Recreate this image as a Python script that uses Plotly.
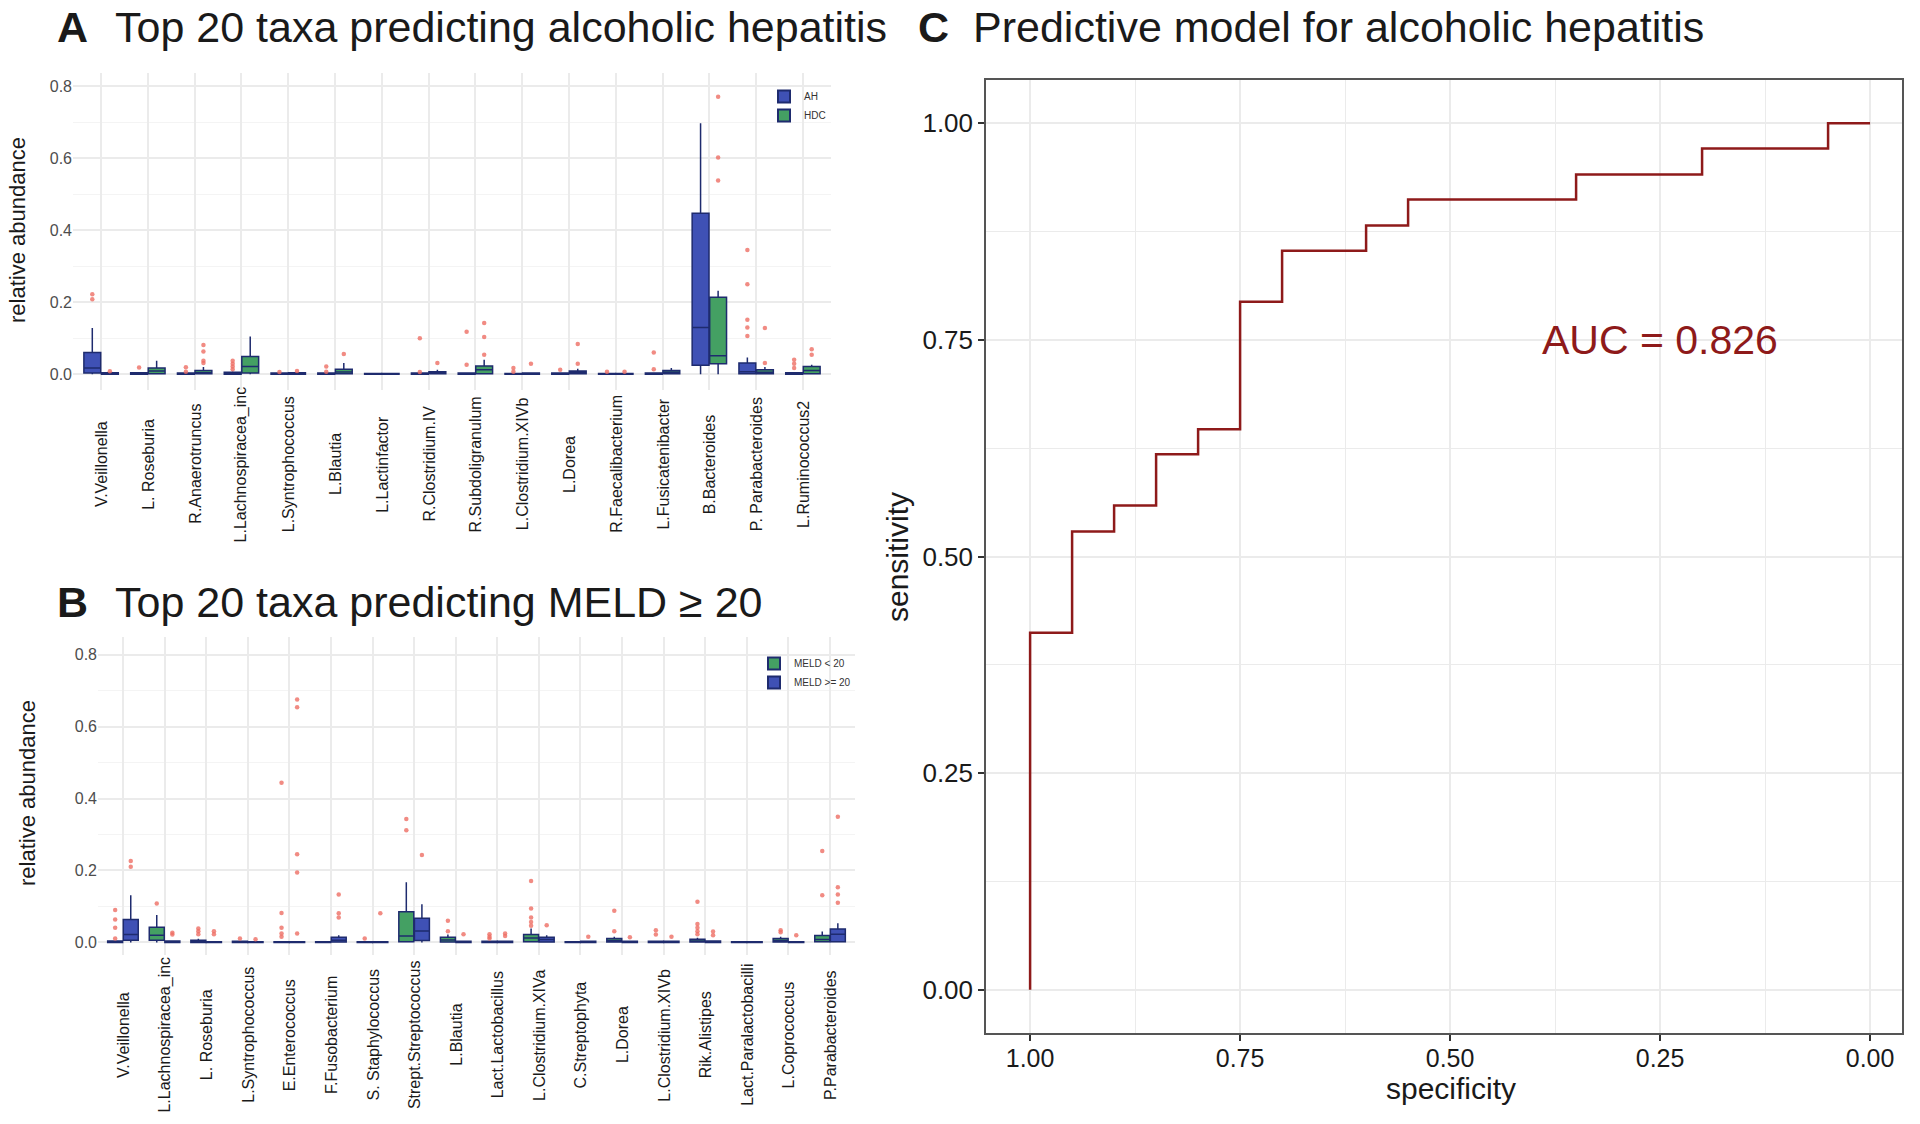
import plotly.graph_objects as go

# ---------------- Panel A data ----------------
A_TAXA = ["V.Veillonella", "L. Roseburia", "R.Anaerotruncus", "L.Lachnospiracea_inc",
          "L.Syntrophococcus", "L.Blautia", "L.Lactinfactor", "R.Clostridium.IV",
          "R.Subdoligranulum", "L.Clostridium.XIVb", "L.Dorea", "R.Faecalibacterium",
          "L.Fusicatenibacter", "B.Bacteroides", "P. Parabacteroides", "L.Ruminococcus2"]

A_AH_Q1 = [0.003, 0, 0, 0, 0, 0, 0, 0, 0, 0, 0, 0, 0, 0.025, 0.001, 0]
A_AH_MED = [0.017, 0.001, 0.001, 0.002, 0.001, 0.001, 0.001, 0.001, 0.001, 0.001, 0.001, 0.001, 0.001, 0.130, 0.007, 0.001]
A_AH_Q3 = [0.060, 0.004, 0.003, 0.005, 0.003, 0.003, 0.002, 0.003, 0.003, 0.002, 0.003, 0.002, 0.003, 0.447, 0.031, 0.004]
A_AH_HI = [0.128, 0.006, 0.005, 0.008, 0.004, 0.005, 0.003, 0.004, 0.005, 0.003, 0.005, 0.003, 0.005, 0.697, 0.046, 0.006]
A_AH_OUT = [[0.222, 0.208], [0.0185], [0.019, 0.007], [0.037, 0.029, 0.021, 0.014], [0.006],
            [0.021, 0.007], [], [0.100, 0.006], [0.118, 0.026], [0.017, 0.007], [0.012],
            [0.007], [0.060, 0.014], [], [0.345, 0.250, 0.151, 0.130, 0.106], [0.040, 0.029, 0.017]]

A_HDC_Q1 = [0, 0.001, 0.001, 0.003, 0, 0.001, 0, 0.001, 0.001, 0, 0.001, 0, 0.001, 0.029, 0.001, 0.001]
A_HDC_MED = [0.001, 0.009, 0.004, 0.021, 0.001, 0.006, 0.001, 0.004, 0.012, 0.001, 0.005, 0.001, 0.005, 0.051, 0.005, 0.010]
A_HDC_Q3 = [0.004, 0.017, 0.010, 0.049, 0.004, 0.014, 0.002, 0.007, 0.023, 0.003, 0.009, 0.002, 0.010, 0.214, 0.012, 0.021]
A_HDC_HI = [0.006, 0.037, 0.020, 0.105, 0.005, 0.031, 0.003, 0.012, 0.040, 0.005, 0.015, 0.003, 0.017, 0.232, 0.020, 0.026]
A_HDC_OUT = [[0.008], [], [0.081, 0.063, 0.037, 0.031], [], [0.009], [0.056], [], [0.031],
             [0.142, 0.103, 0.054], [0.029], [0.084, 0.029], [0.007], [], [0.771, 0.602, 0.538],
             [0.128, 0.031], [0.069, 0.054]]

# ---------------- Panel B data ----------------
B_TAXA = ["V.Veillonella", "L.Lachnospiracea_inc", "L. Roseburia", "L.Syntrophococcus",
          "E.Enterococcus", "F.Fusobacterium", "S. Staphylococcus", "Strept.Streptococcus",
          "L.Blautia", "Lact.Lactobacillus", "L.Clostridium.XIVa", "C.Streptophyta",
          "L.Dorea", "L.Clostridium.XIVb", "Rik.Alistipes", "Lact.Paralactobacilli",
          "L.Coprococcus", "P.Parabacteroides"]

B_LOW_Q1 = [0, 0.006, 0, 0, 0, 0, 0, 0.002, 0.001, 0, 0.002, 0, 0.001, 0, 0.001, 0, 0.001, 0.002]
B_LOW_MED = [0.001, 0.020, 0.002, 0.001, 0.001, 0.001, 0.001, 0.018, 0.007, 0.001, 0.012, 0.001, 0.005, 0.001, 0.004, 0.001, 0.005, 0.008]
B_LOW_Q3 = [0.004, 0.042, 0.006, 0.003, 0.002, 0.002, 0.002, 0.085, 0.014, 0.003, 0.022, 0.002, 0.011, 0.003, 0.009, 0.002, 0.011, 0.019]
B_LOW_HI = [0.006, 0.076, 0.010, 0.005, 0.004, 0.003, 0.003, 0.167, 0.022, 0.005, 0.039, 0.003, 0.016, 0.005, 0.013, 0.003, 0.016, 0.030]
B_LOW_OUT = [[0.090, 0.064, 0.041, 0.011], [0.108], [0.039, 0.031, 0.023], [0.011],
             [0.444, 0.082, 0.041, 0.025, 0.016], [], [0.011], [0.343, 0.312], [0.060, 0.031],
             [0.023, 0.016, 0.011], [0.171, 0.094, 0.069, 0.057, 0.046], [], [0.088, 0.031],
             [0.034, 0.022], [0.113, 0.051, 0.041, 0.031, 0.023], [], [0.034, 0.028], [0.254, 0.131]]

B_HIGH_Q1 = [0.006, 0, 0, 0, 0, 0.001, 0, 0.005, 0, 0, 0.001, 0, 0, 0, 0, 0, 0, 0.002]
B_HIGH_MED = [0.022, 0.001, 0.001, 0.001, 0.001, 0.006, 0.001, 0.032, 0.001, 0.001, 0.008, 0.001, 0.001, 0.001, 0.001, 0.001, 0.001, 0.023]
B_HIGH_Q3 = [0.064, 0.004, 0.002, 0.002, 0.002, 0.014, 0.002, 0.067, 0.003, 0.003, 0.014, 0.003, 0.003, 0.003, 0.004, 0.002, 0.002, 0.037]
B_HIGH_HI = [0.131, 0.006, 0.004, 0.003, 0.004, 0.020, 0.003, 0.106, 0.005, 0.005, 0.020, 0.004, 0.005, 0.005, 0.006, 0.003, 0.003, 0.053]
B_HIGH_OUT = [[0.226, 0.210], [0.027, 0.022], [0.031, 0.023], [0.009],
              [0.675, 0.654, 0.245, 0.194, 0.025], [0.133, 0.081, 0.069], [0.081], [0.243],
              [0.023], [0.025, 0.018], [0.048], [0.016], [0.014], [0.016], [0.030, 0.020], [],
              [0.020], [0.349, 0.153, 0.133, 0.110]]

# ---------------- Panel C data ----------------
ROC_SPECIFICITY = [1.00, 1.00, 0.95, 0.90, 0.85, 0.80, 0.75, 0.70, 0.60, 0.55, 0.35, 0.20, 0.05, 0.00]
ROC_SENSITIVITY = [0.000, 0.412, 0.529, 0.559, 0.618, 0.647, 0.794, 0.853, 0.882, 0.912, 0.941, 0.971, 1.000, 1.000]
AUC_TEXT = "AUC = 0.826"

# ---------------- styling ----------------
W, H = 1920, 1124
BLUE = "#3F51B5"
GREEN = "#44A063"
EDGE = "#1E2B6E"
OUTC = "rgba(238,110,100,0.8)"
ROC_COL = "#8E1A1A"
GRID = "#EBEBEB"
GRID_MINOR = "#F4F4F4"
FONT = "Liberation Sans, Arial, Helvetica, sans-serif"

def px_x(p):
    return p / W

def px_y(p):
    return 1 - p / H

fig = go.Figure()

def add_group(xa, ya, legend, offset, q1, med, q3, hi, outs, name, fill):
    pos = [i + 1 + offset for i in range(len(q1))]
    fig.add_trace(go.Box(
        x=pos, q1=q1, median=med, q3=q3, lowerfence=[0.0] * len(q1), upperfence=hi,
        name=name, fillcolor=fill, line=dict(color=EDGE, width=1.5), width=0.36,
        whiskerwidth=0, boxpoints=False, xaxis=xa, yaxis=ya, legend=legend,
        showlegend=True, hoverinfo="skip"))
    ox, oy = [], []
    for i, vals in enumerate(outs):
        for v in vals:
            ox.append(i + 1 + offset)
            oy.append(v)
    fig.add_trace(go.Scatter(
        x=ox, y=oy, mode="markers", marker=dict(color=OUTC, size=4.5),
        xaxis=xa, yaxis=ya, showlegend=False, hoverinfo="skip"))

OFF = 0.1875
# Panel A: AH (blue, left), HDC (green, right)
add_group("x", "y", "legend", -OFF, A_AH_Q1, A_AH_MED, A_AH_Q3, A_AH_HI, A_AH_OUT, "AH", BLUE)
add_group("x", "y", "legend", OFF, A_HDC_Q1, A_HDC_MED, A_HDC_Q3, A_HDC_HI, A_HDC_OUT, "HDC", GREEN)
# Panel B: MELD < 20 (green, left), MELD >= 20 (blue, right)
add_group("x2", "y2", "legend2", -OFF, B_LOW_Q1, B_LOW_MED, B_LOW_Q3, B_LOW_HI, B_LOW_OUT, "MELD < 20", GREEN)
add_group("x2", "y2", "legend2", OFF, B_HIGH_Q1, B_HIGH_MED, B_HIGH_Q3, B_HIGH_HI, B_HIGH_OUT, "MELD >= 20", BLUE)

# Panel C: ROC curve
fig.add_trace(go.Scatter(
    x=ROC_SPECIFICITY, y=ROC_SENSITIVITY, mode="lines", line=dict(color=ROC_COL, width=2.5, shape="hv"),
    xaxis="x3", yaxis="y3", showlegend=False, hoverinfo="skip"))

box_y_common = dict(
    tickvals=[0, 0.2, 0.4, 0.6, 0.8], tickformat=".1f", showgrid=True, gridcolor=GRID, gridwidth=1.5,
    zeroline=False, showline=False, ticks="", tickfont=dict(size=16, color="#4D4D4D", family=FONT),
    minor=dict(tickvals=[0.1, 0.3, 0.5, 0.7], showgrid=True, gridcolor=GRID_MINOR, gridwidth=1))

fig.update_layout(
    width=W, height=H, margin=dict(l=0, r=0, t=0, b=0),
    paper_bgcolor="white", plot_bgcolor="white",
    font=dict(family=FONT, color="#1A1A1A"),
    boxmode="overlay",
    xaxis=dict(domain=[px_x(73), px_x(831)], range=[0.4, len(A_TAXA) + 0.6],
               tickvals=list(range(1, len(A_TAXA) + 1)), showticklabels=False,
               showgrid=True, gridcolor=GRID, gridwidth=1.5, zeroline=False, showline=False, ticks=""),
    yaxis=dict(domain=[px_y(390), px_y(73)], range=[-0.044, 0.837], **box_y_common),
    xaxis2=dict(domain=[px_x(98), px_x(855)], range=[0.4, len(B_TAXA) + 0.6],
                tickvals=list(range(1, len(B_TAXA) + 1)), showticklabels=False,
                showgrid=True, gridcolor=GRID, gridwidth=1.5, zeroline=False, showline=False, ticks="",
                anchor="y2"),
    yaxis2=dict(domain=[px_y(955), px_y(637)], range=[-0.035, 0.849], anchor="x2", **box_y_common),
    xaxis3=dict(domain=[px_x(986), px_x(1902)], range=[1.0525, -0.038], anchor="y3",
                tickvals=[1.0, 0.75, 0.5, 0.25, 0.0], tickformat=".2f",
                tickfont=dict(size=25, color="#1A1A1A", family=FONT), ticklabelstandoff=-4,
                showgrid=True, gridcolor=GRID, gridwidth=1.5, zeroline=False,
                showline=True, linecolor="#555555", linewidth=1.5, mirror=True,
                ticks="outside", ticklen=6, tickwidth=1.5, tickcolor="#333333",
                minor=dict(tickvals=[0.875, 0.625, 0.375, 0.125], showgrid=True, gridcolor=GRID, gridwidth=1, ticks="")),
    yaxis3=dict(domain=[px_y(1033), px_y(80)], range=[-0.05, 1.05], anchor="x3",
                tickvals=[0, 0.25, 0.5, 0.75, 1.0], tickformat=".2f",
                tickfont=dict(size=26, color="#1A1A1A", family=FONT),
                showgrid=True, gridcolor=GRID, gridwidth=1.5, zeroline=False,
                showline=True, linecolor="#555555", linewidth=1.5, mirror=True,
                ticks="outside", ticklen=6, tickwidth=1.5, tickcolor="#333333",
                minor=dict(tickvals=[0.125, 0.375, 0.625, 0.875], showgrid=True, gridcolor=GRID, gridwidth=1, ticks="")),
    legend=dict(x=px_x(764), y=px_y(82), xanchor="left", yanchor="top", bgcolor="rgba(0,0,0,0)",
                font=dict(size=10, color="#333333", family=FONT), tracegroupgap=2, itemsizing="constant"),
    legend2=dict(x=px_x(754), y=px_y(649), xanchor="left", yanchor="top", bgcolor="rgba(0,0,0,0)",
                 font=dict(size=10, color="#333333", family=FONT), tracegroupgap=2, itemsizing="constant"),
)

ann = []
# Category labels (centered, rotated)
for i, t in enumerate(A_TAXA):
    ann.append(dict(x=i + 1, y=px_y(464), xref="x", yref="paper", text=t, textangle=-90,
                    showarrow=False, xanchor="center", yanchor="middle",
                    font=dict(size=16, color="#1A1A1A", family=FONT)))
for i, t in enumerate(B_TAXA):
    ann.append(dict(x=i + 1, y=px_y(1035), xref="x2", yref="paper", text=t, textangle=-90,
                    showarrow=False, xanchor="center", yanchor="middle",
                    font=dict(size=16, color="#1A1A1A", family=FONT)))

# Axis titles
def axis_title(x, y, text, size, angle):
    ann.append(dict(x=px_x(x), y=px_y(y), xref="paper", yref="paper", text=text,
                    textangle=angle, showarrow=False, xanchor="center", yanchor="middle",
                    font=dict(size=size, color="#1A1A1A", family=FONT)))

axis_title(18, 230, "relative abundance", 22, -90)
axis_title(27, 793, "relative abundance", 22, -90)
axis_title(897, 557, "sensitivity", 30, -90)
axis_title(1451, 1088, "specificity", 30, 0)

# Panel titles
titles = [("A", 55, 113, 27, "Top 20 taxa predicting alcoholic hepatitis"),
          ("B", 55, 113, 602, "Top 20 taxa predicting MELD \u2265 20"),
          ("C", 916, 971, 27, "Predictive model for alcoholic hepatitis")]
for letter, lx, tx, cy, txt in titles:
    ann.append(dict(x=px_x(lx), y=px_y(cy), xref="paper", yref="paper", text="<b>" + letter + "</b>",
                    showarrow=False, xanchor="left", yanchor="middle",
                    font=dict(size=43, color="#1A1A1A", family=FONT)))
    ann.append(dict(x=px_x(tx), y=px_y(cy), xref="paper", yref="paper", text=txt,
                    showarrow=False, xanchor="left", yanchor="middle",
                    font=dict(size=43, color="#1A1A1A", family=FONT)))

# AUC label
ann.append(dict(x=0.25, y=0.75, xref="x3", yref="y3", text=AUC_TEXT, showarrow=False,
                xanchor="center", yanchor="middle", font=dict(size=41, color=ROC_COL, family=FONT)))

fig.update_layout(annotations=ann)

fig.write_html("out.html", config={"displayModeBar": False},
               post_script="document.body.style.margin='0';")
